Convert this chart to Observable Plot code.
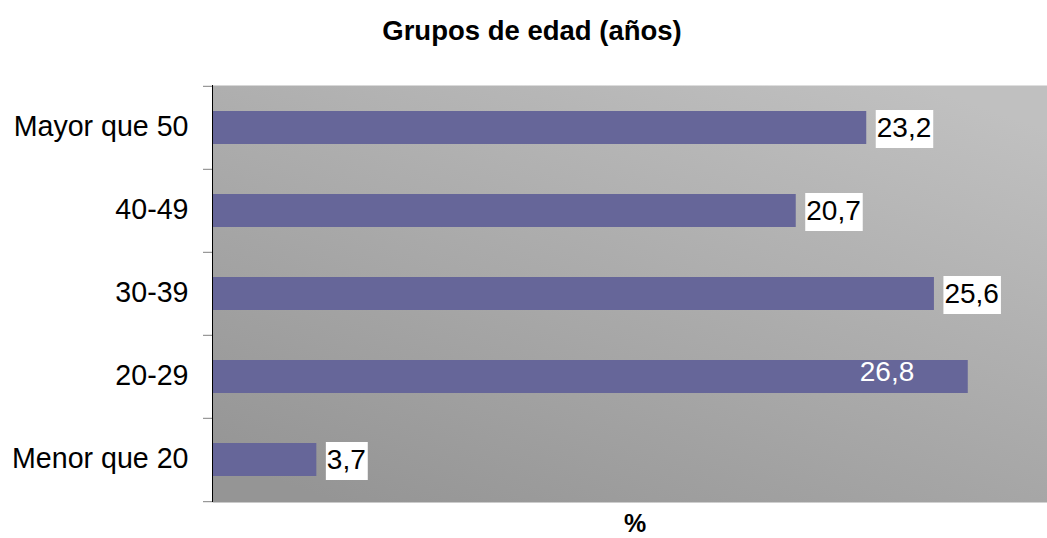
<!DOCTYPE html>
<html><head><meta charset="utf-8">
<script src="https://cdn.jsdelivr.net/npm/d3@7"></script>
<script src="https://cdn.jsdelivr.net/npm/@observablehq/plot@0.6"></script>
<style>body{margin:0;background:#fff}</style>
</head><body><div id="chart"></div>
<script>
const categories = ["Menor que 20", "20-29", "30-39", "40-49", "Mayor que 50"];
const percentages = [3.7, 26.8, 25.6, 20.7, 23.2];
const valueLabels = ["3,7", "26,8", "25,6", "20,7", "23,2"];
const insideLabel = [false, true, false, false, false];
const title = "Grupos de edad (años)";
const xLabel = "%";

const rows = categories.map((c, i) => ({category: c, value: percentages[i], label: valueLabels[i], inside: insideLabel[i]}));

const FONT = "'Liberation Sans', Arial, sans-serif";
const LABEL_SIZE = 28;
const W = 1047, H = 538, MT = 85, MB = 36, ML = 212, MR = 0;
const step = (H - MT - MB) / categories.length;
const pxPerUnit = 28.2;
const xMax = (W - ML - MR) / pxPerUnit;

const ctx = document.createElement("canvas").getContext("2d");
ctx.font = `${LABEL_SIZE}px ${FONT}`;

function boxed(index, scales, values, dimensions, context, next) {
  const g = next(index, scales, values, dimensions, context);
  const ns = "http://www.w3.org/2000/svg";
  for (const i of index) {
    const w = ctx.measureText(rows[i].label).width;
    const r = document.createElementNS(ns, "rect");
    r.setAttribute("x", values.x[i] - 1);
    r.setAttribute("y", values.y[i] - 18);
    r.setAttribute("width", w + 3);
    r.setAttribute("height", 38);
    r.setAttribute("fill", "white");
    r.setAttribute("stroke", "none");
    g.insertBefore(r, g.firstChild);
  }
  return g;
}

const chart = Plot.plot({
  width: W, height: H,
  marginTop: MT, marginBottom: MB, marginLeft: ML, marginRight: MR,
  style: {fontFamily: FONT, background: "white", color: "black"},
  x: {domain: [0, xMax], axis: null},
  y: {domain: categories.slice().reverse(), paddingInner: 0.6, paddingOuter: 0.3, label: null},
  marks: [
    Plot.frame({fill: "url(#bgGrad)", stroke: "none"}),
    Plot.barX(rows, {x: "value", y: "category", fill: "#666699"}),
    Plot.ruleX([0], {stroke: "black", strokeWidth: 1}),
    Plot.ruleY(categories, {y: d => d, x1: -9 / pxPerUnit, x2: 0, dy: -step / 2, stroke: "#808080"}),
    Plot.ruleY([categories[0]], {y: d => d, x1: -9 / pxPerUnit, x2: 0, dy: step / 2, stroke: "#808080"}),
    Plot.axisY({tickSize: 0, tickPadding: 24, fontSize: 28.6, fill: "black", label: null, dy: -1}),
    Plot.text(rows, {filter: d => !d.inside, x: "value", y: "category", text: "label", textAnchor: "start", dx: 10, dy: 0, fontSize: LABEL_SIZE, fill: "black", render: boxed}),
    Plot.text(rows, {filter: d => d.inside, x: "value", y: "category", text: "label", textAnchor: "end", dx: -54, dy: -5, fontSize: LABEL_SIZE, fill: "white"}),
    Plot.text([title], {text: d => d, frameAnchor: "top", lineAnchor: "middle", dy: -54, dx: -98, fontSize: 27.5, fontWeight: "bold", fill: "black"}),
    Plot.text([xLabel], {text: d => d, frameAnchor: "bottom", lineAnchor: "middle", dy: 21, dx: 5, fontSize: 25, fontWeight: "bold", fill: "black"})
  ]
});

const defs = d3.select(chart).insert("defs", ":first-child");
const grad = defs.append("linearGradient").attr("id", "bgGrad")
  .attr("x1", 0.15).attr("y1", 1).attr("x2", 0.85).attr("y2", 0);
grad.append("stop").attr("offset", 0).attr("stop-color", "#959595");
grad.append("stop").attr("offset", 1).attr("stop-color", "#c0c0c0");

document.getElementById("chart").appendChild(chart);
</script>
</body></html>
